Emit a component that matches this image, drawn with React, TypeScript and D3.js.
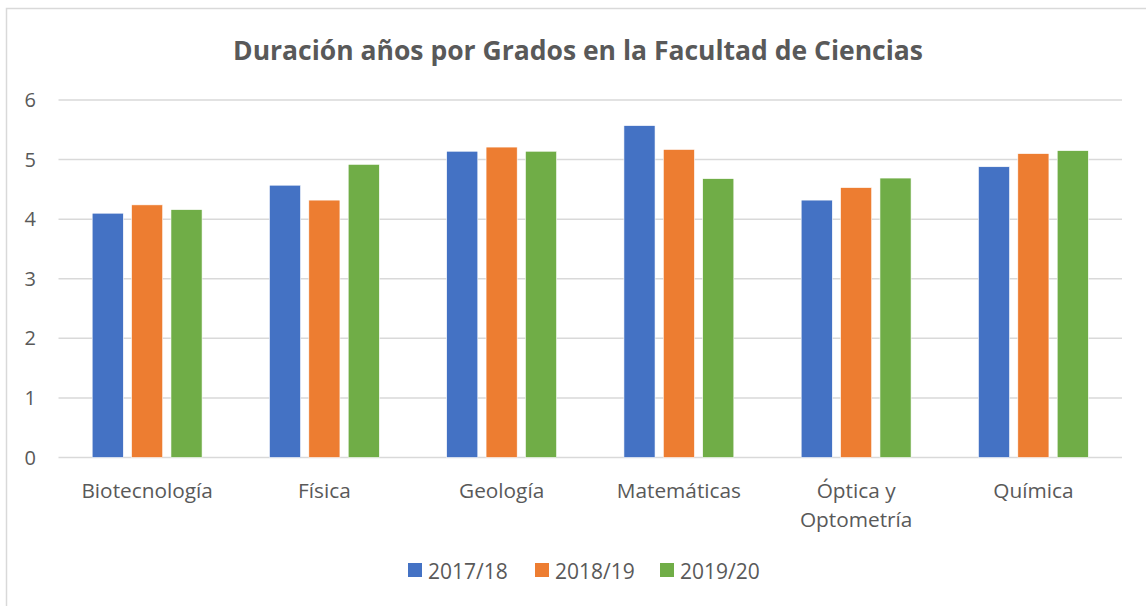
import React, { useEffect, useRef } from 'react'
import * as d3 from 'd3'

// Duración media (años) por grado y curso
const categories = ['Biotecnología', 'Física', 'Geología', 'Matemáticas', 'Óptica y Optometría', 'Química']
const series = ['2017/18', '2018/19', '2019/20']
const values2017 = [4.10, 4.57, 5.14, 5.57, 4.32, 4.88]
const values2018 = [4.24, 4.32, 5.21, 5.17, 4.53, 5.10]
const values2019 = [4.16, 4.92, 5.14, 4.68, 4.69, 5.15]
const yTicks = [0, 1, 2, 3, 4, 5, 6]
const colors = ['#4472C4', '#ED7D31', '#70AD47']

const W = 1146
const H = 606
const FONT = "'Open Sans', sans-serif"

export default function App() {
  const ref = useRef<SVGSVGElement>(null)

  useEffect(() => {
    const svg = d3.select(ref.current)
    svg.selectAll('*').remove()

    const allValues = [values2017, values2018, values2019]

    // chart frame
    svg.append('rect')
      .attr('x', 6.5).attr('y', 8.5)
      .attr('width', W + 20).attr('height', H + 20)
      .attr('fill', '#fff')
      .attr('stroke', '#d9d9d9')
      .attr('stroke-width', 1.5)

    svg.append('text')
      .attr('x', 578).attr('y', 60)
      .attr('text-anchor', 'middle')
      .style('font-family', FONT)
      .style('font-size', '26.5px')
      .style('font-weight', 700)
      .style('fill', '#595959')
      .text('Duración años por Grados en la Facultad de Ciencias')

    const x0 = d3.scaleBand<string>()
      .domain(categories)
      .range([58.5, 1122])
      .paddingInner(0.38)
      .paddingOuter(0.19)

    const x1 = d3.scaleBand<string>()
      .domain(series)
      .range([0, x0.bandwidth()])
      .paddingInner(0.21)

    const y = d3.scaleLinear().domain([0, 6]).range([457.5, 100])

    // gridlines
    svg.append('g').selectAll('line')
      .data(yTicks)
      .enter().append('line')
      .attr('x1', 58.5).attr('x2', 1122)
      .attr('y1', d => y(d)).attr('y2', d => y(d))
      .attr('stroke', '#d9d9d9')
      .attr('stroke-width', 1.5)

    // y tick labels
    svg.append('g').selectAll('text')
      .data(yTicks)
      .enter().append('text')
      .attr('x', 36)
      .attr('y', d => y(d) + 7)
      .attr('text-anchor', 'end')
      .style('font-family', FONT)
      .style('font-size', '20px')
      .style('fill', '#595959')
      .text(d => d)

    // bars
    const groups = svg.append('g').selectAll('g')
      .data(categories)
      .enter().append('g')
      .attr('transform', d => `translate(${x0(d)},0)`)

    groups.selectAll('rect')
      .data((d, i) => series.map((s, j) => ({ s, v: allValues[j][i], j })))
      .enter().append('rect')
      .attr('x', d => x1(d.s)!)
      .attr('width', x1.bandwidth())
      .attr('y', d => y(d.v))
      .attr('height', d => y(0) - y(d.v))
      .attr('fill', d => colors[d.j])
      .attr('stroke', '#fff')
      .attr('stroke-width', 0.6)

    // category labels, wrap on " y "
    const labels = svg.append('g').selectAll('text')
      .data(categories)
      .enter().append('text')
      .attr('x', d => x0(d)! + x0.bandwidth() / 2)
      .attr('y', 498)
      .attr('text-anchor', 'middle')
      .style('font-family', FONT)
      .style('font-size', '20.8px')
      .style('fill', '#595959')

    labels.each(function (d) {
      const t = d3.select(this)
      const lines = d === 'Óptica y Optometría' ? ['Óptica y', 'Optometría'] : [d]
      lines.forEach((l, i) => {
        t.append('tspan')
          .attr('x', x0(d)! + x0.bandwidth() / 2)
          .attr('dy', i === 0 ? 0 : 28.5)
          .text(l)
      })
    })

    // legend
    const legendX = [408, 535, 660]
    const legend = svg.append('g').selectAll('g')
      .data(series)
      .enter().append('g')
      .attr('transform', (d, i) => `translate(${legendX[i]},563)`)

    legend.append('rect')
      .attr('width', 14).attr('height', 14)
      .attr('fill', (d, i) => colors[i])

    legend.append('text')
      .attr('x', 20).attr('y', 15.5)
      .style('font-family', FONT)
      .style('font-size', '21px')
      .style('fill', '#595959')
      .text(d => d)
  }, [])

  return (
    <svg
      ref={ref}
      width={W}
      height={H}
      style={{ position: 'absolute', left: 0, top: 0, background: '#fff' }}
    />
  )
}
